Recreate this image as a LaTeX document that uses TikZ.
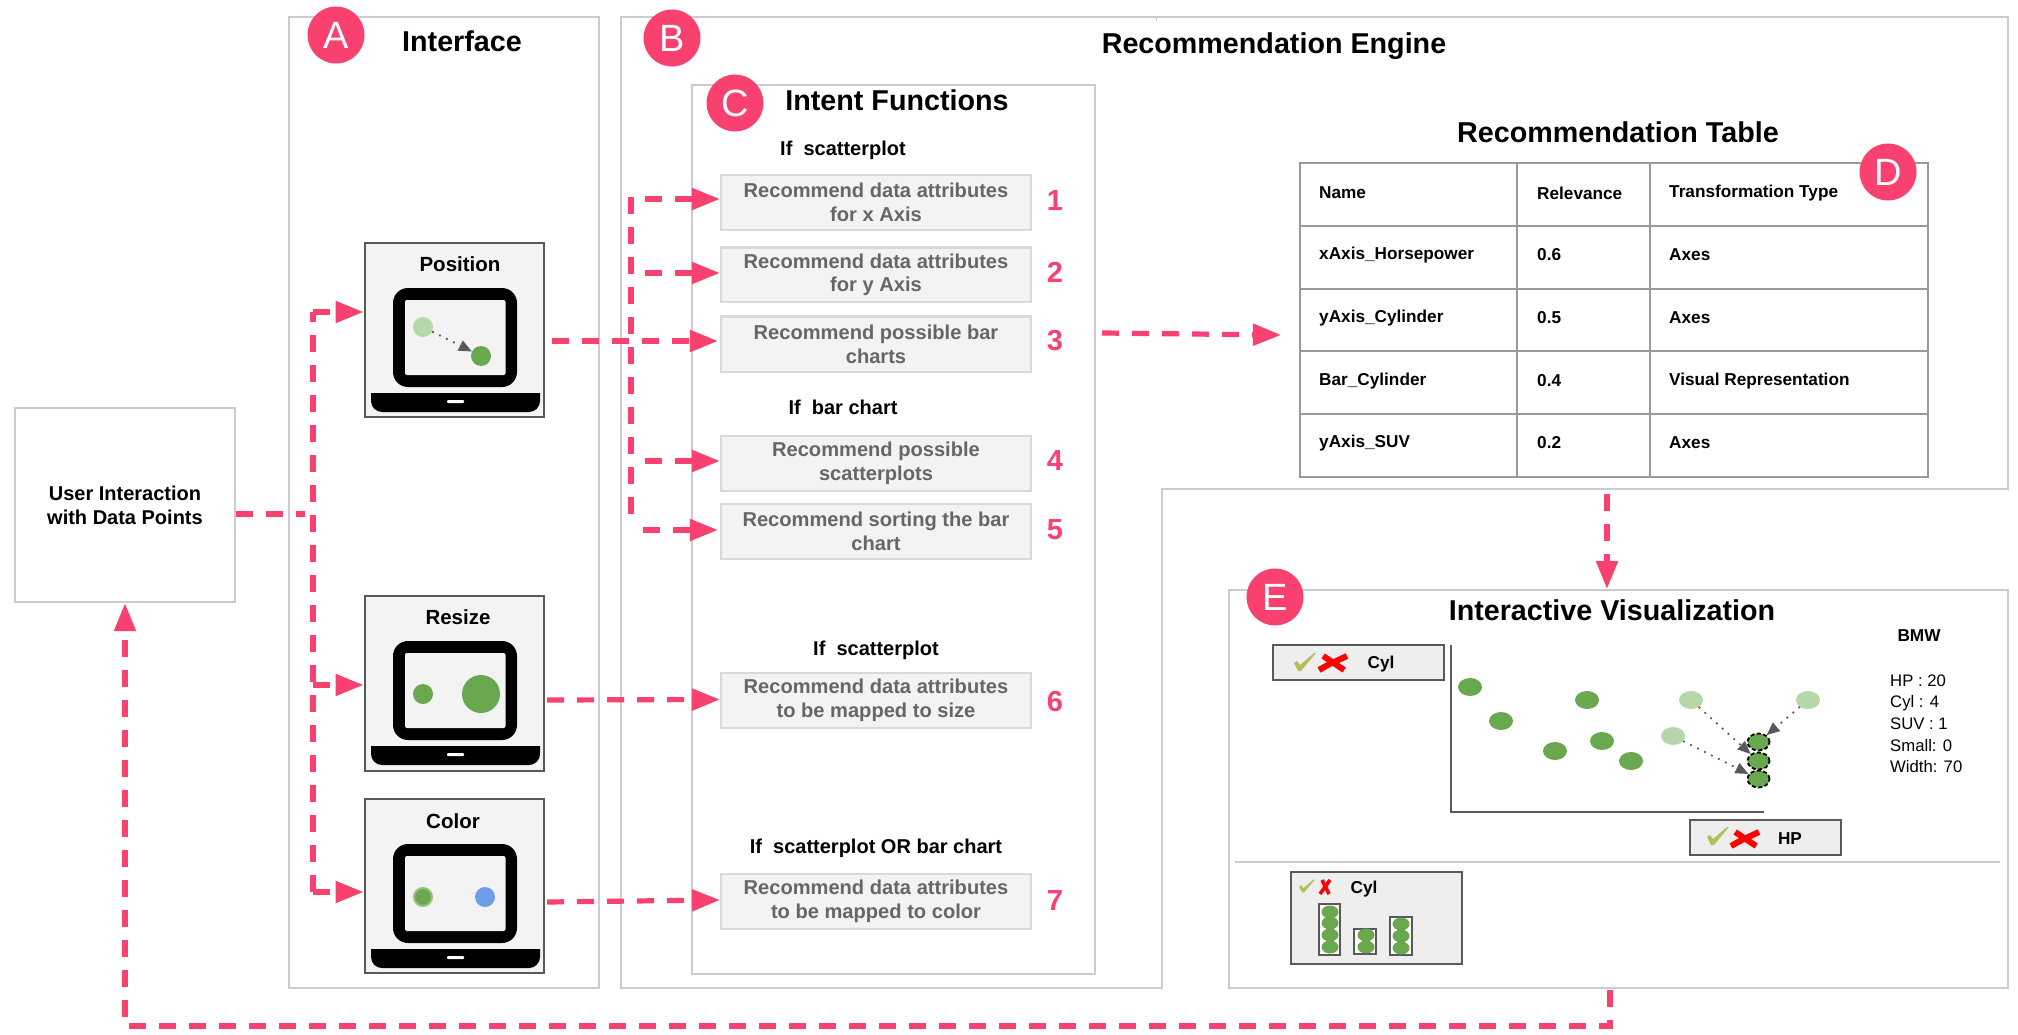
\documentclass[tikz,border=0pt]{standalone}
\usepackage{fontspec}
\setmainfont{Liberation Sans}
\usetikzlibrary{arrows.meta,shapes.geometric}
\definecolor{pink}{HTML}{F8416F}
\definecolor{framegray}{HTML}{CCCCCC}
\definecolor{boxfill}{HTML}{F3F3F3}
\definecolor{boxline}{HTML}{D9D9D9}
\definecolor{darkline}{HTML}{595959}
\definecolor{tablegray}{HTML}{999999}
\definecolor{greendot}{HTML}{6AA84F}
\definecolor{lightdot}{HTML}{B6D7A8}
\definecolor{bluedot}{HTML}{6D9EEB}
\definecolor{ringgreen}{HTML}{93C47D}
\definecolor{checkcol}{HTML}{B5BE58}
\definecolor{widgetfill}{HTML}{EEEEEE}
\definecolor{boxtext}{HTML}{666666}
\newcommand{\rectnode}[7][]{% style name x1 y1 x2 y2 text
  \pgfmathsetmacro\rw{#5-#3}\pgfmathsetmacro\rh{#6-#4}
  \pgfmathsetmacro\rx{(#5+#3)/2}\pgfmathsetmacro\ry{(#6+#4)/2}
  \node[rectangle,inner sep=0pt,minimum width=\rw pt,minimum height=\rh pt,#1] (#2) at (\rx,\ry) {#7};}
\tikzset{
  x=1pt,y=-1pt,
  frame/.style={draw=framegray,line width=2pt},
  intentbox/.style={draw=boxline,fill=boxfill,line width=2.2pt,text=boxtext,align=center,
     font=\bfseries\fontsize{20.1}{24}\selectfont},
  devicebox/.style={draw=darkline,fill=boxfill,line width=2pt},
  widget/.style={draw=darkline,fill=widgetfill,line width=2pt},
  cell/.style={draw=tablegray,line width=2pt},
  badge/.style={circle,fill=pink,text=white,minimum size=57pt,inner sep=0pt,font=\fontsize{38}{38}\selectfont},
  title/.style={font=\bfseries\fontsize{28.7}{30}\selectfont,inner sep=0pt},
  cond/.style={font=\bfseries\fontsize{20}{22}\selectfont,inner sep=0pt},
  num/.style={font=\bfseries\fontsize{29}{30}\selectfont,text=pink,inner sep=0pt},
  tabletext/.style={font=\bfseries\fontsize{17.2}{18}\selectfont,anchor=west,inner sep=0pt},
  devtitle/.style={font=\bfseries\fontsize{20.5}{22}\selectfont,inner sep=0pt},
  flowline/.style={draw=pink,line width=5.2pt,dash pattern=on 17pt off 13pt},
  flow/.style={flowline,-{Triangle[length=28pt,width=21pt]}},
  dotted arrow/.style={draw=darkline,line width=1.8pt,dash pattern=on 1.8pt off 6pt,
     -{Triangle[length=13pt,width=11pt]}},
  sdot/.style={ellipse,fill=greendot,minimum width=24pt,minimum height=18pt,inner sep=0pt},
  ldot/.style={sdot,fill=lightdot},
  tdot/.style={ellipse,fill=greendot,draw=black,line width=1.8pt,dash pattern=on 4pt off 2.5pt,
     minimum width=22pt,minimum height=17pt,inner sep=0pt},
  bdot/.style={ellipse,fill=greendot,minimum width=17pt,minimum height=13pt,inner sep=0pt},
  rdot/.style={circle,inner sep=0pt,minimum size=20pt},
}
\newcommand{\laptop}[1]{%
  \begin{scope}[shift={(0,#1)}]
    \fill[black,rounded corners=15pt] (393,288) rectangle (517,387);
    \fill[boxfill,rounded corners=2pt] (405,300) rectangle (505.5,375);
    \fill[black] (371,393) [rounded corners=11pt]-- (371,412) -- (540,412) [sharp corners]-- (540,393) -- cycle;
    \fill[white,rounded corners=1pt] (447,400) rectangle (464,403);
  \end{scope}}
\newcommand{\checkmk}[3]{% x y scale
  \fill[checkcol,shift={(#1,#2)},scale=#3] (-11,1) -- (-8,-1) -- (-5,3) -- (9,-9) -- (11,-9) -- (-4,9) -- (-7,9) -- cycle;}
\newcommand{\crossmk}[4]{% x y halfw halfh
  \draw[red,line width=6pt] (#1-#3,#2+#4) .. controls (#1-#3*0.3,#2+#4*0.2) .. (#1+#3,#2-#4);
  \draw[red,line width=6pt] (#1-#3*0.7,#2-#4) -- (#1+#3*0.8,#2+#4);}
\begin{document}
\begin{tikzpicture}
\useasboundingbox (0,0) rectangle (2018,1035);
% --- outer frames
\draw[frame] (621,17) -- (2008,17) -- (2008,489) -- (1162,489) -- (1162,988) -- (621,988) -- cycle;
\draw[framegray,line width=1pt] (1156,17) -- (1156,21);
\rectnode[frame]{ifaceframe}{289}{17}{599}{988}{}
\rectnode[frame]{intentframe}{692}{85}{1095}{974}{}
\rectnode[frame]{visframe}{1229}{590}{2008}{988}{}
\rectnode[draw=framegray,line width=2.4pt,align=center,font=\bfseries\fontsize{20}{24}\selectfont]{user}{15}{408}{235}{602}{User Interaction\\with Data Points}
% --- titles
\node[title] (tiface) at (462,41) {Interface};
\node[title] (tengine) at (1274,46) {Recommendation Engine};
\node[title] (tintent) at (897,100) {Intent Functions};
\node[title] (ttable) at (1618,132) {Recommendation Table};
\node[title] (tvis) at (1612,610) {Interactive Visualization};
% --- device panels
\rectnode[devicebox]{position}{364.5}{243}{544}{417}{}
\node[devtitle] (tpos) at (460,264) {Position};
\laptop{0}
\node[rdot,fill=lightdot] (p1) at (423,327) {};
\node[rdot,fill=greendot] (p2) at (481,356) {};
\draw[dotted arrow] (p1) -- (p2);
\rectnode[devicebox]{resize}{364.5}{596}{544}{770.5}{}
\node[devtitle] (tres) at (458,617) {Resize};
\laptop{353}
\node[rdot,fill=greendot] (r1) at (423,694) {};
\node[rdot,fill=greendot,minimum size=38pt] (r2) at (481,694) {};
\rectnode[devicebox]{color}{364.5}{799}{544}{973}{}
\node[devtitle] (tcol) at (453,821) {Color};
\laptop{556}
\node[rdot,fill=greendot,draw=ringgreen,line width=2pt,minimum size=18pt] (c1) at (423,897) {};
\node[rdot,fill=bluedot] (c2) at (485,897) {};
% --- intent boxes
\node[cond] (ifa) at (843,150) {If\ \ scatterplot};
\rectnode[intentbox]{b1}{721}{175}{1031}{230}{Recommend data attributes\\for x Axis}
\rectnode[intentbox]{b2}{721}{247.5}{1031}{302}{\raisebox{-1.5pt}{Recommend data attributes}\\for y Axis}
\rectnode[intentbox]{b3}{721}{316.5}{1031}{372}{Recommend possible bar\\charts}
\node[cond] (ifb) at (843,407) {If\ \ bar chart};
\rectnode[intentbox]{b4}{721}{436}{1031}{491}{\raisebox{-1pt}{Recommend possible}\\\raisebox{-1pt}{scatterplots}}
\rectnode[intentbox]{b5}{721}{504}{1031}{559}{Recommend sorting the bar\\chart}
\node[cond] (ifc) at (876,650) {If\ \ scatterplot};
\rectnode[intentbox]{b6}{721}{673}{1031}{728}{\raisebox{-1pt}{Recommend data attributes}\\\raisebox{-1pt}{to be mapped to size}}
\node[cond] (ifd) at (876,848) {If\ \ scatterplot OR bar chart};
\rectnode[intentbox]{b7}{721}{874}{1031}{929}{\raisebox{-1pt}{Recommend data attributes}\\\raisebox{-1pt}{to be mapped to color}}
\node[num] (n1) at (1055,200.5) {1};
\node[num] (n2) at (1055,272) {2};
\node[num] (n3) at (1055,341) {3};
\node[num] (n4) at (1055,461) {4};
\node[num] (n5) at (1055,530) {5};
\node[num] (n6) at (1055,702) {6};
\node[num] (n7) at (1055,901) {7};
% --- table
\rectnode[cell]{tbl}{1300}{163}{1928}{477}{}
\foreach \yy in {226,289,351,414}{\draw[tablegray,line width=2pt] (1300,\yy) -- (1928,\yy);}
\foreach \xx in {1517,1650}{\draw[tablegray,line width=1.5pt] (\xx,163) -- (\xx,477);}
\node[tabletext] at (1319,193) {Name};
\node[tabletext] at (1537,193) {Relevance};
\node[tabletext] at (1669,193) {Transformation Type};
\node[tabletext] at (1319,255) {xAxis\_Horsepower};
\node[tabletext] at (1537,255) {0.6};
\node[tabletext] at (1669,255) {Axes};
\node[tabletext] at (1319,318) {yAxis\_Cylinder};
\node[tabletext] at (1537,318) {0.5};
\node[tabletext] at (1669,318) {Axes};
\node[tabletext] at (1319,381) {Bar\_Cylinder};
\node[tabletext] at (1537,381) {0.4};
\node[tabletext] at (1669,381) {Visual Representation};
\node[tabletext] at (1319,443) {yAxis\_SUV};
\node[tabletext] at (1537,443) {0.2};
\node[tabletext] at (1669,443) {Axes};
% --- visualization: widgets
\rectnode[widget]{wcyl}{1273}{645}{1444}{680}{}
\checkmk{1305}{662}{1}
\crossmk{1333}{663}{14}{7}
\node[tabletext,anchor=center] (lcyl) at (1381,664) {Cyl};
\rectnode[widget]{whp}{1690}{820}{1841}{855}{}
\checkmk{1718}{836}{1}
\crossmk{1745}{839}{14}{7}
\node[tabletext,anchor=center] (lhp) at (1790,839) {HP};
\draw[darkline,line width=2pt] (1451,645) -- (1451,812) -- (1764,812);
% --- visualization: points
\node[sdot] (d1) at (1470,687) {};
\node[sdot] (d2) at (1501,721) {};
\node[sdot] (d3) at (1587,700) {};
\node[sdot] (d4) at (1555,751) {};
\node[sdot] (d5) at (1602,741) {};
\node[sdot] (d6) at (1631,761) {};
\node[ldot] (l1) at (1691,700) {};
\node[ldot] (l2) at (1808,700) {};
\node[ldot] (l3) at (1673,736) {};
\node[tdot] (t1) at (1758.5,742) {};
\node[tdot] (t2) at (1758.5,761) {};
\node[tdot] (t3) at (1758.5,779) {};
\draw[dotted arrow] (l1) -- (t2);
\draw[dotted arrow] (l2) -- (t1);
\draw[dotted arrow] (l3) -- (t3);
% --- detail text
\node[tabletext,anchor=center] (bmw) at (1919,636) {BMW};
\foreach \yy/\tt in {681/{HP : 20},703/{Cyl : 4},724/{SUV : 1},746/{Small: 0},767/{Width: 70}}{
  \node[anchor=west,inner sep=0pt,font=\fontsize{16.7}{18}\selectfont] at (1890,\yy) {\tt};}
\draw[framegray,line width=2pt] (1235,862) -- (2000,862);
% --- bar widget
\rectnode[widget]{wbar}{1291}{872}{1462}{964}{}
\checkmk{1307}{886}{0.72}
\draw[red,line width=3.6pt] (1320,894) -- (1330,880);
\draw[red,line width=3.6pt] (1322,880) -- (1329,894);
\node[tabletext,anchor=center] (lcyl2) at (1364,889) {Cyl};
\rectnode[draw=darkline,fill=white,line width=1.8pt]{bar1}{1319}{904}{1340}{955}{}
\rectnode[draw=darkline,fill=white,line width=1.8pt]{bar2}{1354}{929}{1376}{954}{}
\rectnode[draw=darkline,fill=white,line width=1.8pt]{bar3}{1390}{917}{1412}{955}{}
\foreach \yy in {912,923,935,947}{\node[bdot] at (1330,\yy) {};}
\foreach \yy in {935,947}{\node[bdot] at (1366,\yy) {};}
\foreach \yy in {924,936,948}{\node[bdot] at (1401,\yy) {};}
% --- connectors
\coordinate (uout) at (236,514);
\coordinate (ujoin) at (305,514);
\draw[flowline] (uout) -- (ujoin);
\coordinate (ltop) at (313,312);
\coordinate (lres) at (313,685);
\coordinate (lcol) at (313,892);
\draw[flowline] (lcol) -- (ltop);
\draw[flow] (ltop) -- (position.west |- ltop);
\draw[flow] (lres) -- (resize.west |- lres);
\draw[flow] (lcol) -- (color.west |- lcol);
\coordinate (trtop) at (631,197);
\coordinate (trbot) at (631,514);
\draw[flowline] (trtop) -- (trbot);
\coordinate (s1) at (645,199);
\coordinate (s2) at (645,273);
\coordinate (s3) at (552,341);
\coordinate (s4) at (645,461);
\coordinate (s5) at (643,530);
\draw[flow] (s1) -- (b1.west |- s1);
\draw[flow] (s2) -- (b2.west |- s2);
\draw[flow] (s3) -- ([xshift=-2pt]b3.west |- s3);
\draw[flow] (s4) -- (b4.west |- s4);
\draw[flow] (s5) -- ([xshift=-2pt]b5.west |- s5);
\coordinate (s6) at (547,700);
\coordinate (s7) at (547,902);
\draw[flow] (s6) -- ([yshift=1pt]b6.west);
\draw[flow] (s7) -- ([yshift=1.5pt]b7.west);
\coordinate (tin) at (1102,333);
\coordinate (ttip) at (1281,335);
\draw[flow] (tin) -- (ttip);
\coordinate (dn) at (1607,494);
\draw[flow] (dn) -- (dn |- visframe.north);
\coordinate (back) at (1610,990);
\coordinate (backb) at (1610,1026);
\coordinate (backc) at (125,1026);
\draw[flow] (back) -- (backb) -- (backc) -- (user.south -| backc);
% --- badges
\node[badge] (ba) at (336,35) {A};
\node[badge] (bb) at (672,38) {B};
\node[badge] (bc) at (735,103) {C};
\node[badge] (bd) at (1888,172) {D};
\node[badge] (be) at (1275,597) {E};
\end{tikzpicture}
\end{document}
